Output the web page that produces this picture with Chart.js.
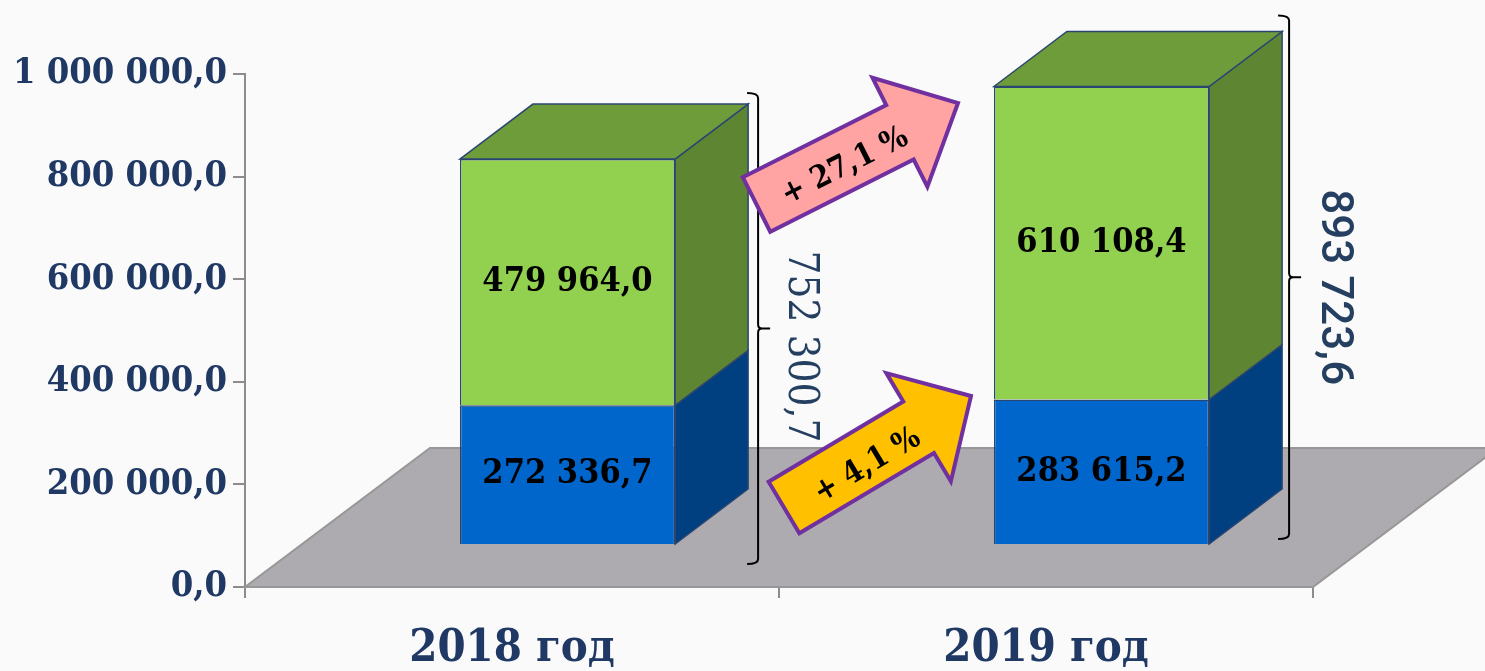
<!DOCTYPE html>
<html>
<head>
<meta charset="utf-8">
<script src="https://cdn.jsdelivr.net/npm/chart.js@4.4.1/dist/chart.umd.min.js"></script>
<style>
  html, body { margin: 0; padding: 0; background: #fafafa; overflow: hidden; }
  #wrap { width: 1485px; height: 671px; position: relative; }
</style>
</head>
<body>
<div id="wrap"><canvas id="chart"></canvas></div>
<script>
(function(){
    // data
    const categories = ['2018 год', '2019 год'];
    const seriesBlue = [272336.7, 283615.2];
    const seriesGreen = [479964.0, 610108.4];
    const yTicks = [0, 200000, 400000, 600000, 800000, 1000000];

    const SERIF = "'DejaVu Serif Condensed', 'DejaVu Serif', serif";
    const SANS = "Roboto, 'Noto Sans', sans-serif";
    const NAVY = '#1f3864';

    // 3d look: front face shift from axis plane, bar depth, floor depth
    const SHIFT = [55.5, -42];
    const DEPTH = [73, -55];
    const FLOOR = [185, -139];

    const fmt = v => {
        const parts = v.toFixed(1).split('.');
        return parts[0].replace(/\B(?=(\d{3})+(?!\d))/g, ' ') + ',' + parts[1];
    };
    const pct = (a, b) => '+ ' + ((b / a - 1) * 100).toFixed(1).replace('.', ',') + ' %';

    function poly(ctx, pts, fill, stroke, lw) {
        ctx.beginPath();
        ctx.moveTo(pts[0][0], pts[0][1]);
        for (let i = 1; i < pts.length; i++) ctx.lineTo(pts[i][0], pts[i][1]);
        ctx.closePath();
        ctx.fillStyle = fill;
        ctx.fill();
        if (stroke) {
            ctx.lineWidth = lw;
            ctx.strokeStyle = stroke;
            ctx.lineJoin = 'miter';
            ctx.stroke();
        }
    }

    function drawArrow(ctx, a) {
        const dx = a.tip[0] - a.tail[0], dy = a.tip[1] - a.tail[1];
        const len = Math.hypot(dx, dy);
        const u = [dx / len, dy / len];
        const n = [-u[1], u[0]];
        const s = [a.tail[0] + u[0] * (len - a.headLen), a.tail[1] + u[1] * (len - a.headLen)];
        const at = (p, k) => [p[0] + n[0] * k, p[1] + n[1] * k];
        poly(ctx, [
            at(a.tail, -a.w / 2), at(s, -a.w / 2), at(s, -a.hw / 2), a.tip,
            at(s, a.hw / 2), at(s, a.w / 2), at(a.tail, a.w / 2)
        ], a.fill, '#7030a0', 4);
        ctx.save();
        ctx.translate(a.tail[0] + u[0] * a.along + n[0] * a.perp, a.tail[1] + u[1] * a.along + n[1] * a.perp);
        ctx.rotate(Math.atan2(u[1], u[0]));
        ctx.fillStyle = '#000';
        ctx.font = 'bold 31px ' + SERIF;
        ctx.textAlign = 'center';
        ctx.textBaseline = 'middle';
        ctx.fillText(a.text, 0, 0);
        ctx.restore();
    }

    function drawBracket(ctx, x, top, bottom) {
        const mid = (top + bottom) / 2;
        ctx.save();
        ctx.strokeStyle = '#000';
        ctx.lineWidth = 2;
        ctx.beginPath();
        ctx.moveTo(x - 11, top);
        ctx.quadraticCurveTo(x, top, x, top + 5);
        ctx.lineTo(x, mid - 4);
        ctx.quadraticCurveTo(x, mid, x + 4, mid);
        ctx.lineTo(x + 12, mid);
        ctx.moveTo(x + 4, mid);
        ctx.quadraticCurveTo(x, mid, x, mid + 4);
        ctx.lineTo(x, bottom - 5);
        ctx.quadraticCurveTo(x, bottom, x - 11, bottom);
        ctx.stroke();
        ctx.restore();
    }

    const sideColors = ['#003f80', '#5e8532'];
    const topColor = '#6f9c3b';
    const edge = '#2a4670';

    const bar3d = {
        id: 'bar3d',
        beforeDatasetsDraw(chart) {
            const ctx = chart.ctx;
            const a = chart.chartArea;
            poly(ctx, [
                [a.left, a.bottom], [a.right, a.bottom],
                [a.right + FLOOR[0], a.bottom + FLOOR[1]], [a.left + FLOOR[0], a.bottom + FLOOR[1]]
            ], '#aeabb0', '#979797', 2);
            ctx.save();
            ctx.translate(SHIFT[0], SHIFT[1]);
        },
        afterDatasetsDraw(chart) {
            const ctx = chart.ctx;
            ctx.restore();
            const last = chart.data.datasets.length - 1;
            chart.data.datasets.forEach((ds, di) => {
                chart.getDatasetMeta(di).data.forEach((el, i) => {
                    const l = el.x - el.width / 2 + SHIFT[0];
                    const r = el.x + el.width / 2 + SHIFT[0];
                    const t = el.y + SHIFT[1];
                    const b = el.base + SHIFT[1];
                    poly(ctx, [[r, t], [r + DEPTH[0], t + DEPTH[1]], [r + DEPTH[0], b + DEPTH[1]], [r, b]],
                        sideColors[di], edge, 1.5);
                    if (di === last) {
                        poly(ctx, [[l, t], [l + DEPTH[0], t + DEPTH[1]], [r + DEPTH[0], t + DEPTH[1]], [r, t]],
                            topColor, edge, 1.5);
                    }
                    ctx.fillStyle = '#000';
                    ctx.font = 'bold 34px ' + SERIF;
                    ctx.textAlign = 'center';
                    ctx.textBaseline = 'middle';
                    ctx.fillText(fmt(ds.data[i]), (l + r) / 2, (t + b) / 2);
                });
            });
        },
        afterDraw(chart) {
            const ctx = chart.ctx;
            const top = chart.getDatasetMeta(1).data;
            const bottom = chart.getDatasetMeta(0).data;
            const brackets = [
                { gap: 10, over: 11, under: 20, tx: 42, ty: 18, font: '42px ' + SERIF },
                { gap: 7, over: 16, under: -5, tx: 44, ty: 10, font: '500 44px ' + SANS }
            ];
            categories.forEach((c, i) => {
                const bk = brackets[i];
                const x = top[i].x + top[i].width / 2 + SHIFT[0] + DEPTH[0] + bk.gap;
                const y0 = top[i].y + SHIFT[1] + DEPTH[1] - bk.over;
                const y1 = bottom[i].base + SHIFT[1] + bk.under;
                drawBracket(ctx, x, y0, y1);
                ctx.save();
                ctx.translate(x + bk.tx, (y0 + y1) / 2 + bk.ty);
                ctx.rotate(Math.PI / 2);
                ctx.fillStyle = '#243f60';
                ctx.font = bk.font;
                ctx.textAlign = 'center';
                ctx.textBaseline = 'middle';
                ctx.fillText(fmt(seriesBlue[i] + seriesGreen[i]), 0, 0);
                ctx.restore();
            });

            drawArrow(ctx, {
                tail: [756.5, 204.5], tip: [958, 103], w: 61, hw: 122, headLen: 65,
                fill: '#ffa3a3', text: pct(seriesGreen[0], seriesGreen[1]), along: 96, perp: 6
            });
            drawArrow(ctx, {
                tail: [784, 507.5], tip: [971, 396], w: 60, hw: 126, headLen: 61,
                fill: '#ffc000', text: pct(seriesBlue[0], seriesBlue[1]), along: 93, perp: 7
            });
        }
    };

    new Chart(document.getElementById('chart'), {
        type: 'bar',
        data: {
            labels: categories,
            datasets: [
                { data: seriesBlue, backgroundColor: '#0066cc', borderColor: edge, borderWidth: 1.5 },
                { data: seriesGreen, backgroundColor: '#92d050', borderColor: edge, borderWidth: 1.5 }
            ]
        },
        options: {
            responsive: true,
            maintainAspectRatio: false,
            animation: false,
            events: [],
            layout: { padding: { top: 74, right: 172, left: 0, bottom: 0 } },
            datasets: { bar: { barPercentage: 0.403, categoryPercentage: 1 } },
            plugins: { legend: { display: false }, tooltip: { enabled: false } },
            scales: {
                x: {
                    stacked: true,
                    offset: true,
                    afterFit: s => { s.height = 84; },
                    grid: { offset: true, drawOnChartArea: false, tickLength: 11, color: '#8c8c8c', lineWidth: 2 },
                    border: { display: true, color: '#8c8c8c', width: 2 },
                    ticks: { color: NAVY, padding: 24, font: { family: SERIF, size: 45, weight: 'bold' } }
                },
                y: {
                    stacked: true,
                    min: 0,
                    max: 1000000,
                    afterFit: s => { s.width = 245; },
                    afterBuildTicks: s => { s.ticks = yTicks.map(v => ({ value: v })); },
                    grid: { drawOnChartArea: false, tickLength: 12, color: '#8c8c8c', lineWidth: 2 },
                    border: { display: true, color: '#8c8c8c', width: 2 },
                    ticks: {
                        color: NAVY,
                        padding: 6,
                        font: { family: SERIF, size: 36, weight: 'bold' },
                        callback: v => fmt(v)
                    }
                }
            }
        },
        plugins: [bar3d]
    });
})();
</script>
</body>
</html>
